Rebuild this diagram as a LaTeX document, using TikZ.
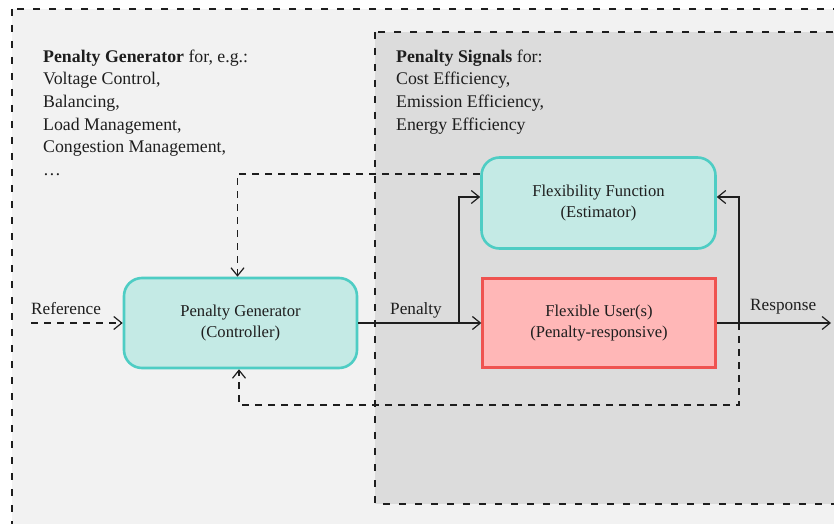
\documentclass[tikz,border=0pt]{standalone}
\usepackage{fontspec}
\setmainfont{Liberation Serif}
\usetikzlibrary{arrows.meta}
\definecolor{bgouter}{HTML}{F2F2F2}
\definecolor{bginner}{HTML}{DCDCDC}
\definecolor{tealfill}{HTML}{C4EAE5}
\definecolor{tealdraw}{HTML}{4ECDC4}
\definecolor{pinkfill}{HTML}{FFB7B7}
\definecolor{pinkdraw}{HTML}{EF5350}
\definecolor{ink}{HTML}{1E1E1E}
\tikzset{
  dashbox/.style={draw=ink, line width=1.1pt, dash pattern=on 7pt off 9pt},
  tealbox/.style={draw=tealdraw, fill=tealfill, line width=2.6pt, rounded corners=18pt,
    minimum width=233pt, minimum height=90pt, align=center, text=ink,
    font=\fontsize{16.6}{21.5}\selectfont},
  pinkbox/.style={draw=pinkdraw, fill=pinkfill, line width=2.3pt,
    minimum width=233pt, minimum height=89pt, align=center, text=ink,
    font=\fontsize{16.6}{21.5}\selectfont},
  conn/.style={draw=ink, line width=1.2pt, -{Straight Barb[length=8pt,width=13pt]}},
  dashconn/.style={conn, dash pattern=on 7pt off 6pt},
  lbl/.style={anchor=base west, inner sep=0pt, text=ink, font=\fontsize{17.2}{20}\selectfont},
  head/.style={anchor=north west, inner sep=0pt, align=left, text=ink,
    font=\fontsize{17.8}{22.6}\selectfont}
}
\begin{document}
\begin{tikzpicture}[x=1pt,y=1pt]
\useasboundingbox (0,0) rectangle (834,523);
\fill[white] (0,0) rectangle (834,523);
\begin{scope}
\clip (0,0) rectangle (834,523);
\draw[dashbox, fill=bgouter] (12,514) rectangle (900,-20);
\draw[dashbox, fill=bginner] (375,491) rectangle (900,19);
\end{scope}

\node[head] (hl) at (43,473.5) {\textbf{Penalty Generator} for, e.g.:\\Voltage Control,\\Balancing,\\Load Management,\\Congestion Management,\\\dots};
\node[head] (hr) at (396,473.5) {\textbf{Penalty Signals} for:\\Cost Efficiency,\\Emission Efficiency,\\Energy Efficiency};

\node[tealbox] (pg) at (240.5,200) {Penalty Generator\\(Controller)};
\node[tealbox, minimum width=234pt, minimum height=91pt] (ff) at (598.5,320) {Flexibility Function\\(Estimator)};
\node[pinkbox] (fu) at (599,200) {Flexible User(s)\\(Penalty-responsive)};

\coordinate (refstart) at (31,200);
\coordinate (b1) at (459,200);
\coordinate (b2) at (739,200);
\coordinate (resend) at (831,200);
\coordinate (fbk) at (739,118);

\draw[dashconn] (refstart) -- (pg.west);
\node[lbl] (reflbl) at (31,209) {Reference};

\draw[conn] (pg.east) -- (fu.west);
\node[lbl] (penlbl) at (390,209) {Penalty};
\draw[conn] (b1) |- ([yshift=6pt]ff.west);

\draw[conn] (fu.east) -- (resend);
\node[lbl] (reslbl) at (750,213) {Response};
\draw[conn] (b2) |- ([yshift=6pt]ff.east);

\draw[dashconn] ([yshift=29pt]ff.west) -| ([xshift=-3pt]pg.north);
\draw[dashconn] (b2) -- (fbk) -| ([xshift=-1.5pt]pg.south);
\end{tikzpicture}
\end{document}
